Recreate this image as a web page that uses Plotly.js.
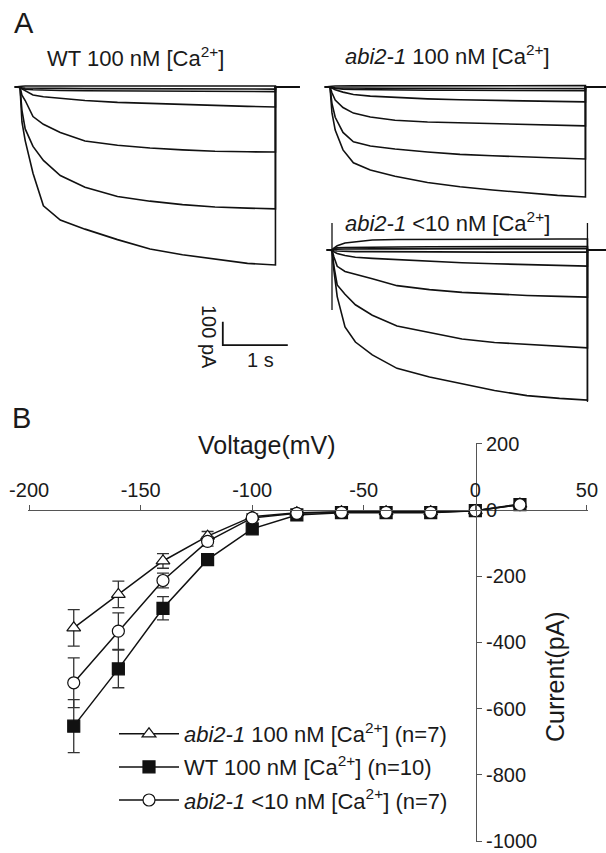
<!DOCTYPE html>
<html>
<head>
<meta charset="utf-8">
<script src="https://cdn.plot.ly/plotly-3.0.1.min.js"></script>
<style>
  html, body { margin: 0; padding: 0; background: #fff; }
  #chart { width: 606px; height: 853px; }
</style>
</head>
<body>
<div id="chart"></div>
<script>
// ---------------- Panel B data (I-V relation) ----------------
const voltage = [-180, -160, -140, -120, -100, -80, -60, -40, -20, 0, 20];
const abi100Current = [-356, -255, -154, -79, -20, -8, -5, -5, -5, -2, 18];
const abi100Sem     = [55, 40, 22, 14, 8, 4, 3, 3, 3, 3, 4];
const wtCurrent     = [-653, -480, -297, -150, -57, -15, -8, -8, -8, -2, 16];
const wtSem         = [80, 57, 35, 15, 10, 5, 3, 3, 3, 3, 4];
const abi10Current  = [-522, -366, -213, -95, -24, -10, -7, -7, -7, -2, 16];
const abi10Sem      = [75, 55, 22, 14, 8, 4, 3, 3, 3, 3, 4];

const voltageTicks = [-200, -150, -100, -50, 0, 50];
const voltageTickText = ['-200', '-150', '-100', '-50', '0', '50'];
const currentTicks = [200, 0, -200, -400, -600, -800, -1000];
const currentTickText = ['200', '0', '-200', '-400', '-600', '-800', '-1000'];

// ---------------- Panel A data (current sweeps, s / pA) ----------------
const pulseTime = [-0.08, 0, 0.03, 0.08, 0.2, 0.36, 0.62, 1.0, 1.5, 2.0, 2.5, 3.0, 3.5, 3.93, 3.93, 4.3];

// WT 100 nM
const wtSweepA = [0, 0, 3, 4, 4, 5, 4, 5, 4, 5, 4, 5, 4, 4, 0, 0];
const wtSweepB = [0, 0, -3, -4, -5, -6, -6, -7, -7, -8, -8, -8, -9, -9, 0, 0];
const wtSweepC = [0, 0, -6, -9, -12, -14, -15, -16, -17, -18, -18, -19, -19, -20, 0, 0];
const wtSweep1 = [0, 0, -8, -15, -34, -42, -49, -58, -66, -71, -75, -79, -83, -86, 0, 0];
const wtSweep2 = [0, 0, -35, -58, -127, -160, -195, -232, -250, -262, -270, -276, -278, -279, 0, 0];
const wtSweep3 = [0, 0, -100, -180, -255, -315, -380, -430, -470, -490, -505, -515, -520, -523, 0, 0];
const wtSweep4 = [0, 0, -150, -230, -370, -510, -571, -610, -655, -695, -720, -740, -757, -764, 0, 0];

// abi2-1 100 nM
const abi100SweepA = [0, 0, 3, 4, 5, 5, 5, 5, 6, 5, 6, 6, 7, 6, 0, 0];
const abi100SweepB = [0, 0, -2, -3, -4, -5, -5, -6, -6, -6, -7, -7, -7, -7, 0, 0];
const abi100SweepC = [0, 0, -4, -6, -9, -11, -12, -13, -14, -14, -15, -15, -16, -16, 0, 0];
const abi100Sweep1 = [0, 0, -5, -12, -22, -32, -39, -45, -51, -55, -58, -61, -63, -64, 0, 0];
const abi100Sweep2 = [0, 0, -25, -56, -88, -112, -129, -143, -150, -153, -158, -162, -165, -167, 0, 0];
const abi100Sweep3 = [0, 0, -70, -130, -195, -235, -253, -266, -279, -289, -295, -299, -304, -309, 0, 0];
const abi100Sweep4 = [0, 0, -110, -185, -270, -325, -356, -383, -410, -428, -442, -455, -465, -472, 0, 0];

// abi2-1 <10 nM
const abi10SweepUp = [0, 0, 8, 18, 30, 36, 43, 45, 46, 46, 46, 47, 47, 47, 0, 0];
const abi10SweepA  = [0, 0, 6, 9, 11, 12, 13, 13, 14, 14, 14, 15, 15, 15, 0, 0];
const abi10SweepB  = [0, 0, 2, 3, 4, 5, 5, 5, 6, 6, 6, 6, 6, 6, 0, 0];
const abi10SweepC  = [0, 0, -3, -4, -6, -7, -7, -8, -8, -8, -9, -9, -9, -9, 0, 0];
const abi10Sweep1  = [0, 0, -8, -15, -24, -31, -36, -42, -49, -55, -59, -63, -66, -69, 0, 0];
const abi10Sweep2  = [0, 0, -30, -70, -92, -105, -123, -153, -170, -182, -190, -195, -199, -202, 0, 0];
const abi10Sweep3  = [0, 0, -70, -150, -190, -235, -280, -326, -354, -382, -397, -405, -413, -420, 0, 0];
const abi10Sweep4  = [0, 0, -90, -200, -330, -395, -450, -508, -545, -575, -603, -625, -637, -644, 0, 0];
const abi10OnTransientTime = [0, 0];
const abi10OnTransient = [116, -257];
const abi10OffTransientTime = [3.93, 3.93];
const abi10OffTransient = [116, -652];

// scale bar (100 pA, 1 s)
const scaleBarTime = [3.12, 3.12, 4.12];
const scaleBarCurrent = [-1008, -1108, -1108];

// ---------------- layout helpers ----------------
const W = 606, H = 853;
const fx = px => px / W;
const fy = py => 1 - py / H;
const PX_PER_S = 65, PX_PER_PA = 0.233;
function tRange(px0, px1, pxZero) { return [(px0 - pxZero) / PX_PER_S, (px1 - pxZero) / PX_PER_S]; }
function iRange(pyTop, pyBot, pyZero) { return [-(pyBot - pyZero) / PX_PER_PA, -(pyTop - pyZero) / PX_PER_PA]; }

const FONT = 'Liberation Sans, Arial, Helvetica, sans-serif';
const INK = '#111';

function sweep(x, y, xa, ya, w) {
  return { x: x, y: y, xaxis: xa, yaxis: ya, type: 'scatter', mode: 'lines',
           line: { color: INK, width: w || 1.6 }, showlegend: false, hoverinfo: 'skip' };
}

const traces = [];
[wtSweepA, wtSweepB, wtSweepC, wtSweep1, wtSweep2, wtSweep3, wtSweep4].forEach(s => traces.push(sweep(pulseTime, s, 'x', 'y')));
traces.push(sweep(scaleBarTime, scaleBarCurrent, 'x', 'y', 1.8));
[abi100SweepA, abi100SweepB, abi100SweepC, abi100Sweep1, abi100Sweep2, abi100Sweep3, abi100Sweep4].forEach(s => traces.push(sweep(pulseTime, s, 'x2', 'y2')));
[abi10SweepUp, abi10SweepA, abi10SweepB, abi10SweepC, abi10Sweep1, abi10Sweep2, abi10Sweep3, abi10Sweep4].forEach(s => traces.push(sweep(pulseTime, s, 'x4', 'y4')));
traces.push(sweep(abi10OnTransientTime, abi10OnTransient, 'x4', 'y4', 1.3));
traces.push(sweep(abi10OffTransientTime, abi10OffTransient, 'x4', 'y4', 1.3));

function ivTrace(name, cur, sem, symbol, fill, group) {
  return {
    name: name, legendgroup: group, x: voltage, y: cur, xaxis: 'x3', yaxis: 'y3',
    type: 'scatter', mode: 'lines+markers',
    line: { color: INK, width: 1.5 },
    marker: { symbol: symbol, size: 12, color: fill, line: { color: INK, width: 1.2 } },
    error_y: { type: 'data', array: sem, visible: true, color: '#333', thickness: 1.3, width: 6 },
    hoverinfo: 'skip', cliponaxis: false
  };
}
traces.push(ivTrace('<i>abi2-1</i> 100 nM [Ca<sup>2+</sup>] (n=7)', abi100Current, abi100Sem, 'triangle-up', '#fff', 'g1'));
traces.push(ivTrace('WT 100 nM [Ca<sup>2+</sup>] (n=10)', wtCurrent, wtSem, 'square', INK, 'g2'));
traces.push(ivTrace('<i>abi2-1</i> &lt;10 nM [Ca<sup>2+</sup>] (n=7)', abi10Current, abi10Sem, 'circle', '#fff', 'g3'));

const hidden = { visible: false, fixedrange: true };

function ann(text, px, py, size, extra) {
  return Object.assign({ text: text, x: fx(px), y: fy(py), xref: 'paper', yref: 'paper',
    showarrow: false, xanchor: 'center', yanchor: 'middle',
    font: { family: FONT, size: size, color: '#1a1a1a' } }, extra || {});
}

const layout = {
  width: W, height: H,
  margin: { l: 0, r: 0, t: 0, b: 0 },
  paper_bgcolor: '#fff', plot_bgcolor: 'rgba(0,0,0,0)',
  font: { family: FONT, color: '#1a1a1a' },
  showlegend: true,
  xaxis:  Object.assign({ domain: [fx(8), fx(302)], range: tRange(8, 302, 20), anchor: 'y' }, hidden),
  yaxis:  Object.assign({ domain: [fy(365), fy(70)], range: iRange(70, 365, 87), anchor: 'x' }, hidden),
  xaxis2: Object.assign({ domain: [fx(318), fx(606)], range: tRange(318, 606, 330), anchor: 'y2' }, hidden),
  yaxis2: Object.assign({ domain: [fy(212), fy(70)], range: iRange(70, 212, 87), anchor: 'x2' }, hidden),
  xaxis4: Object.assign({ domain: [fx(318), fx(606)], range: tRange(318, 606, 332), anchor: 'y4' }, hidden),
  yaxis4: Object.assign({ domain: [fy(412), fy(214)], range: iRange(214, 412, 250), anchor: 'x4' }, hidden),
  xaxis3: {
    domain: [fx(28), fx(588)], range: [-200.5, 50.5], anchor: 'free', position: fy(510), side: 'top',
    showline: true, linecolor: '#555', linewidth: 1, ticks: 'outside', ticklen: 5, tickwidth: 1, tickcolor: '#555',
    tickmode: 'array', tickvals: voltageTicks, ticktext: voltageTickText, ticklabeloverflow: 'allow',
    tickfont: { family: FONT, size: 20, color: '#1a1a1a' }, showgrid: false, zeroline: false, fixedrange: true
  },
  yaxis3: {
    domain: [fy(842), fy(442.8)], range: [-1003, 203], anchor: 'free', position: fx(476), side: 'right',
    showline: true, linecolor: '#555', linewidth: 1, ticks: 'outside', ticklen: 5, tickwidth: 1, tickcolor: '#555',
    tickmode: 'array', tickvals: currentTicks, ticktext: currentTickText, ticklabeloverflow: 'allow',
    tickfont: { family: FONT, size: 20, color: '#1a1a1a' }, showgrid: false, zeroline: false, fixedrange: true
  },
  legend: {
    x: fx(114), y: fy(713), xanchor: 'left', yanchor: 'top',
    bgcolor: 'rgba(0,0,0,0)', borderwidth: 0,
    font: { family: FONT, size: 22, color: '#1a1a1a' },
    traceorder: 'grouped', tracegroupgap: 1.5, itemwidth: 60
  },
  annotations: [
    ann('A', 24, 23, 29),
    ann('B', 21, 418, 29),
    ann('WT 100 nM [Ca<sup>2+</sup>]', 135, 57, 22),
    ann('<i>abi2-1</i> 100 nM [Ca<sup>2+</sup>]', 447, 55, 22),
    ann('<i>abi2-1</i> &lt;10 nM [Ca<sup>2+</sup>]', 447, 222, 22),
    ann('100 pA', 209, 337, 20, { textangle: 90 }),
    ann('1 s', 260, 360, 20),
    ann('Voltage(mV)', 267, 445, 25),
    ann('Current(pA)', 555, 677, 25, { textangle: -90 })
  ]
};

Plotly.newPlot('chart', traces, layout, { displayModeBar: false, staticPlot: true });
</script>
</body>
</html>
